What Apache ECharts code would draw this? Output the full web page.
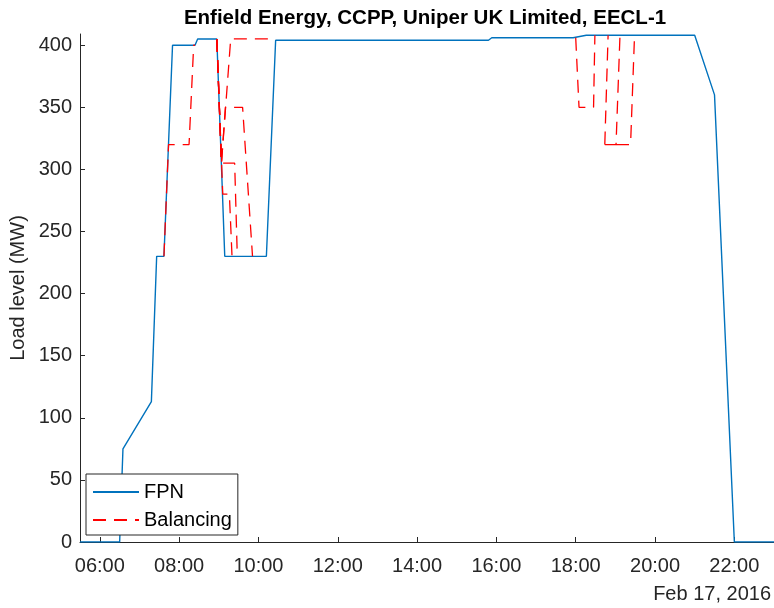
<!DOCTYPE html>
<html><head><meta charset="utf-8">
<script src="https://cdn.jsdelivr.net/npm/echarts@6/dist/echarts.min.js"></script>
<style>html,body{margin:0;padding:0;background:#fff}#chart{width:774px;height:608px}</style>
</head><body><div id="chart"></div>
<script>
// ---- data ----
const titleText = 'Enfield Energy, CCPP, Uniper UK Limited, EECL-1';
const yAxisTitle = 'Load level (MW)';
const dateLabel = 'Feb 17, 2016';
const xTickLabels = ['06:00','08:00','10:00','12:00','14:00','16:00','18:00','20:00','22:00'];
const yTicks = [0,50,100,150,200,250,300,350,400];

const fpnTimes  = ['05:30','06:30','06:35','07:18','07:26','07:37','07:50','08:24','08:28','08:57','09:09','10:12','10:26','15:48','15:53','17:56','18:16','21:00','21:30','22:00','23:00'];
const fpnValues = [0,0,75,113,230,230,400,400,405,405,230,230,404,404,406,406,408,408,360,0,0];

const balMorningTimes  = ['07:37','07:44','08:15','08:22','08:24'];
const balMorningValues = [230,320,320,400,400];
const balRiseTimes  = ['08:57','09:04','09:18','10:26'];
const balRiseValues = [405,305,405,405];
const bal350Times  = ['08:57','09:04','09:10','09:36','09:51'];
const bal350Values = [405,305,350,350,230];
const bal305Times  = ['08:57','09:04','09:24','09:28'];
const bal305Values = [405,305,305,230];
const bal280Times  = ['08:57','09:06','09:16','09:20'];
const bal280Values = [405,280,280,230];
const balEve350Times  = ['18:00','18:05','18:27','18:29'];
const balEve350Values = [406,350,350,408];
const balEveRiseTimes  = ['18:44','18:49'];
const balEveRiseValues = [320,408];
const balEve320aTimes  = ['18:44','19:01','19:07'];
const balEve320aValues = [320,320,408];
const balEve320bTimes  = ['19:01','19:23','19:29'];
const balEve320bValues = [320,320,408];

// ---- helpers ----
function toHours(s){ const p = s.split(':').map(Number); return p[0] + p[1]/60; }
function pairs(times, values){ return times.map((t,i)=>[toHours(t), values[i]]); }
function fmt(v){ const h = Math.floor(v+1e-9); const m = Math.round((v-h)*60); return String(h).padStart(2,'0')+':'+String(m).padStart(2,'0'); }

const balancingSets = [
  [balMorningTimes, balMorningValues],
  [balRiseTimes, balRiseValues],
  [bal350Times, bal350Values],
  [bal305Times, bal305Values],
  [bal280Times, bal280Values],
  [balEve350Times, balEve350Values],
  [balEveRiseTimes, balEveRiseValues],
  [balEve320aTimes, balEve320aValues],
  [balEve320bTimes, balEve320bValues]
];

const FONT = 'Liberation Sans, Arial, Helvetica, sans-serif';
const AX = '#262626';
const FS = 20;

const series = [{
  name: 'FPN', type: 'line', data: pairs(fpnTimes, fpnValues),
  symbol: 'none', lineStyle: { color: '#0072BD', width: 1.4 }, itemStyle: { color: '#0072BD' },
  animation: false, z: 2
}];
balancingSets.forEach(s => series.push({
  name: 'Balancing', type: 'line', data: pairs(s[0], s[1]),
  symbol: 'none', lineStyle: { color: '#FF0000', width: 1.3, type: [13, 8] }, itemStyle: { color: '#FF0000' },
  animation: false, z: 3
}));

const chart = echarts.init(document.getElementById('chart'), null, { renderer: 'canvas' });
chart.setOption({
  animation: false,
  backgroundColor: '#fff',
  grid: { left: 80, right: -3, top: 34, bottom: 66, containLabel: false },
  xAxis: {
    type: 'value', min: 5.5, max: 23,
    axisLine: { show: true, lineStyle: { color: AX, width: 1 } },
    axisTick: { show: true, inside: true, length: 5, lineStyle: { color: AX }, customValues: xTickLabels.map(toHours) },
    axisLabel: { show: true, color: AX, fontFamily: FONT, fontSize: FS, margin: 14, customValues: xTickLabels.map(toHours), formatter: v => fmt(v) },
    splitLine: { show: false }
  },
  yAxis: {
    type: 'value', min: 0, max: 409,
    axisLine: { show: true, lineStyle: { color: AX, width: 1 } },
    axisTick: { show: true, inside: true, length: 5, lineStyle: { color: AX }, customValues: yTicks },
    axisLabel: { show: true, color: AX, fontFamily: FONT, fontSize: FS, margin: 8, customValues: yTicks },
    splitLine: { show: false }
  },
  legend: {
    orient: 'vertical', left: 86, top: 474,
    data: ['FPN', 'Balancing'],
    itemWidth: 46, itemHeight: 14, itemGap: 8,
    itemStyle: { opacity: 0 },
    backgroundColor: '#fff', borderColor: AX, borderWidth: 1, borderRadius: 0,
    padding: [8, 6, 5, 6],
    textStyle: { fontFamily: FONT, fontSize: FS, color: '#000' }
  },
  graphic: [
    { type: 'text', x: 425, y: 18, style: { text: titleText, fill: '#000', font: 'bold 20.5px ' + FONT, align: 'center', verticalAlign: 'middle' } },
    { type: 'text', x: 18, y: 288, rotation: Math.PI/2, style: { text: yAxisTitle, fill: AX, font: FS + 'px ' + FONT, align: 'center', verticalAlign: 'middle' } },
    { type: 'text', x: 771, y: 594, style: { text: dateLabel, fill: AX, font: FS + 'px ' + FONT, align: 'right', verticalAlign: 'middle' } }
  ],
  series: series
});
</script></body></html>
